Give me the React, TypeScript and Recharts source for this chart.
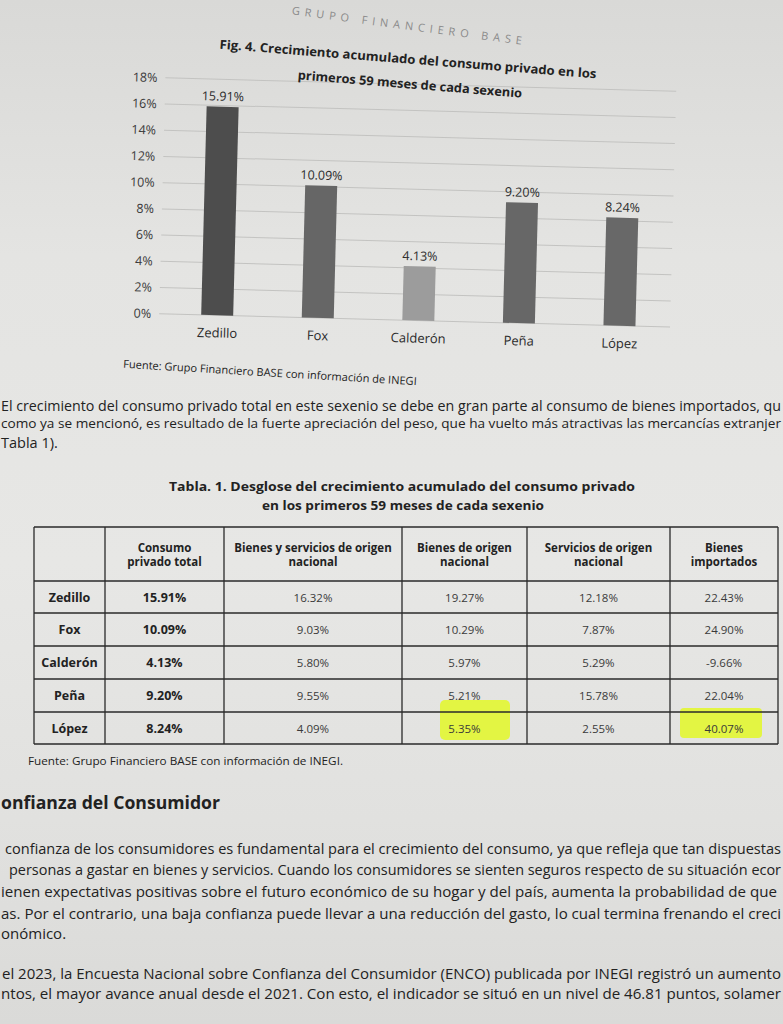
import React from 'react';
import { BarChart, Bar, XAxis, YAxis, CartesianGrid, Cell, LabelList } from 'recharts';

// ---- chart data ----
const categories = ['Zedillo', 'Fox', 'Calderón', 'Peña', 'López'];
const values = [15.91, 10.09, 4.13, 9.2, 8.24];
const yTicks = [0, 2, 4, 6, 8, 10, 12, 14, 16, 18];
const barColors = ['#4d4d4d', '#666666', '#9c9c9c', '#676767', '#686868'];

// ---- table data ----
const tableHeaders = [
  ['Consumo', 'privado total'],
  ['Bienes y servicios de origen', 'nacional'],
  ['Bienes de origen', 'nacional'],
  ['Servicios de origen', 'nacional'],
  ['Bienes', 'importados'],
];
const bienesServiciosNacional = [16.32, 9.03, 5.8, 9.55, 4.09];
const bienesNacional = [19.27, 10.29, 5.97, 5.21, 5.35];
const serviciosNacional = [12.18, 7.87, 5.29, 15.78, 2.55];
const bienesImportados = [22.43, 24.9, -9.66, 22.04, 40.07];

// ---- texts ----
const headerText = 'GRUPO FINANCIERO BASE';
const chartTitle = ['Fig. 4. Crecimiento acumulado del consumo privado en los', 'primeros 59 meses de cada sexenio'];
const chartSource = 'Fuente: Grupo Financiero BASE con información de INEGI';
const paragraphA = [
  'El crecimiento del consumo privado total en este sexenio se debe en gran parte al consumo de bienes importados, qu',
  'como ya se mencionó, es resultado de la fuerte apreciación del peso, que ha vuelto más atractivas las mercancías extranjer',
  'Tabla 1).',
];
const tableTitle = ['Tabla. 1. Desglose del crecimiento acumulado del consumo privado', 'en los primeros 59 meses de cada sexenio'];
const tableSource = 'Fuente: Grupo Financiero BASE con información de INEGI.';
const sectionHeading = 'onfianza del Consumidor';
const paragraphB = [
  'confianza de los consumidores es fundamental para el crecimiento del consumo, ya que refleja que tan dispuestas',
  'personas a gastar en bienes y servicios. Cuando los consumidores se sienten seguros respecto de su situación ecor',
  'ienen expectativas positivas sobre el futuro económico de su hogar y del país, aumenta la probabilidad de que',
  'as. Por el contrario, una baja confianza puede llevar a una reducción del gasto, lo cual termina frenando el creci',
  'onómico.',
  'el 2023, la Encuesta Nacional sobre Confianza del Consumidor (ENCO) publicada por INEGI registró un aumento',
  'ntos, el mayor avance anual desde el 2021. Con esto, el indicador se situó en un nivel de 46.81 puntos, solamer',
];

const chartData = categories.map((name, i) => ({ name, value: values[i] }));
const pct = (v: number) => `${v.toFixed(2)}%`;

const FONT = "'Open Sans', 'Noto Sans', sans-serif";
const INK = '#222222';

type TProps = {
  x: number; y: number; children: React.ReactNode; size?: number; weight?: number;
  len?: number; anchor?: 'start' | 'middle' | 'end'; fill?: string; rot?: number; adjust?: string;
};
const T = ({ x, y, children, size = 15, weight = 400, len, anchor = 'start', fill = INK, rot, adjust = 'spacingAndGlyphs' }: TProps) => (
  <text
    x={x}
    y={y}
    fontSize={size}
    fontWeight={weight}
    textLength={len}
    lengthAdjust={len ? (adjust as any) : undefined}
    textAnchor={anchor}
    dominantBaseline="central"
    fill={fill}
    transform={rot ? `rotate(${rot} ${x} ${y})` : undefined}
  >
    {children}
  </text>
);

export default function App() {
  const colX = [34, 105, 224, 402, 527, 670, 778];
  const rowY = [527, 581, 613, 646, 679, 712, 744];
  const colCenter = colX.slice(0, -1).map((x, i) => (x + colX[i + 1]) / 2);
  const rowCenter = rowY.slice(0, -1).map((y, i) => (y + rowY[i + 1]) / 2);
  const otherCols = [bienesServiciosNacional, bienesNacional, serviciosNacional, bienesImportados];

  const paraAPos = [
    { x: 1, y: 405, len: 780, size: 14 },
    { x: 1, y: 423, len: 780, size: 13.4 },
    { x: 1, y: 442, size: 14.5 },
  ];
  const paraBPos = [
    { x: 5, y: 848, len: 776, size: 14 },
    { x: 9, y: 869, len: 772, size: 13.6 },
    { x: 1, y: 891, len: 776, size: 14 },
    { x: 1, y: 913, len: 780, size: 13.6 },
    { x: 1, y: 933, size: 15 },
    { x: 2, y: 973, len: 779, size: 14 },
    { x: 1, y: 993, len: 780, size: 13.8 },
  ];

  return (
    <div
      style={{
        position: 'absolute', left: 0, top: 0, width: 783, height: 1024, overflow: 'hidden',
        background: 'linear-gradient(180deg, #d9d9d7 0%, #e4e4e2 25%, #e7e7e5 55%, #e1e1df 80%, #dadad8 100%)',
        fontFamily: FONT,
      }}
    >
      <div
        style={{
          position: 'absolute', left: 100, top: 60, width: 600, height: 300,
          transform: 'rotate(1.5deg)', transformOrigin: '50% 50%',
        }}
      >
        <BarChart width={600} height={300} data={chartData} margin={{ top: 24, right: 27, bottom: 10, left: 12 }}>
          <CartesianGrid vertical={false} stroke="#c3c3c1" />
          <XAxis
            dataKey="name"
            axisLine={false}
            tickLine={false}
            tickMargin={7}
            interval={0}
            padding={{ left: 8, right: 0 }}
            tick={{ fontSize: 13, fill: '#2b2b2b' }}
          />
          <YAxis
            domain={[0, 18]}
            ticks={yTicks}
            interval={0}
            width={50}
            axisLine={false}
            tickLine={false}
            tickFormatter={(v: number) => `${v}%`}
            tick={{ fontSize: 12.5, fill: '#3a3a3a' }}
          />
          <Bar dataKey="value" barSize={32} isAnimationActive={false}>
            {chartData.map((d, i) => (
              <Cell key={d.name} fill={barColors[i]} />
            ))}
            <LabelList
              dataKey="value"
              position="top"
              offset={6}
              formatter={(v: any) => pct(Number(v))}
              fontSize={12.5}
              fill="#2b2b2b"
            />
          </Bar>
        </BarChart>
      </div>

      <svg
        width={783}
        height={1024}
        style={{ position: 'absolute', left: 0, top: 0, pointerEvents: 'none', fontFamily: FONT }}
      >
        {/* page header */}
        <T x={407} y={25} size={11} fill="#8a8a8a" anchor="middle" len={232} adjust="spacing" rot={7.5}>
          {headerText}
        </T>
        {/* chart title */}
        <T x={408} y={59} size={12.5} weight={700} anchor="middle" len={378} rot={4.5}>{chartTitle[0]}</T>
        <T x={410} y={84} size={12.5} weight={700} anchor="middle" len={225} rot={4.7}>{chartTitle[1]}</T>
        {/* chart source */}
        <T x={270} y={372} size={11} anchor="middle" len={294} rot={3.4}>{chartSource}</T>

        {/* paragraph A */}
        {paragraphA.map((s, i) => (
          <T key={i} x={paraAPos[i].x} y={paraAPos[i].y} size={paraAPos[i].size} len={paraAPos[i].len}>{s}</T>
        ))}

        {/* table title */}
        <T x={402} y={486} size={13} weight={700} anchor="middle" len={466}>{tableTitle[0]}</T>
        <T x={403} y={505} size={13} weight={700} anchor="middle" len={282}>{tableTitle[1]}</T>

        {/* highlights */}
        <rect x={440} y={700} width={70} height={40} rx={5} fill="#e3f53a" opacity={0.95} />
        <rect x={680} y={708} width={82} height={30} rx={4} fill="#e3f53a" opacity={0.95} />

        {/* table grid */}
        {colX.map((x, i) => (
          <line key={'c' + i} x1={x} x2={x} y1={rowY[0]} y2={rowY[rowY.length - 1]} stroke="#2a2a2a" strokeWidth={1.3} />
        ))}
        {rowY.map((y, i) => (
          <line key={'r' + i} x1={colX[0]} x2={colX[colX.length - 1]} y1={y} y2={y} stroke="#2a2a2a" strokeWidth={1.3} />
        ))}

        {/* table header */}
        {tableHeaders.map((lines, j) => (
          <g key={'h' + j}>
            <T x={colCenter[j + 1]} y={rowCenter[0] - 7} size={11.5} weight={700} anchor="middle">{lines[0]}</T>
            <T x={colCenter[j + 1]} y={rowCenter[0] + 7} size={11.5} weight={700} anchor="middle">{lines[1]}</T>
          </g>
        ))}

        {/* table body */}
        {categories.map((name, i) => (
          <g key={'row' + i}>
            <T x={colCenter[0]} y={rowCenter[i + 1]} size={12.5} weight={700} anchor="middle">{name}</T>
            <T x={colCenter[1]} y={rowCenter[i + 1]} size={12.5} weight={700} anchor="middle">{pct(values[i])}</T>
            {otherCols.map((col, j) => (
              <T key={j} x={colCenter[j + 2]} y={rowCenter[i + 1]} size={11.5} anchor="middle" fill="#3a3a3a">
                {pct(col[i])}
              </T>
            ))}
          </g>
        ))}

        {/* table source */}
        <T x={28} y={760} size={11} len={315}>{tableSource}</T>

        {/* section heading */}
        <T x={1} y={802} size={17} weight={700} len={219}>{sectionHeading}</T>

        {/* paragraph B */}
        {paragraphB.map((s, i) => (
          <T key={i} x={paraBPos[i].x} y={paraBPos[i].y} size={paraBPos[i].size} len={paraBPos[i].len}>{s}</T>
        ))}
      </svg>
    </div>
  );
}
